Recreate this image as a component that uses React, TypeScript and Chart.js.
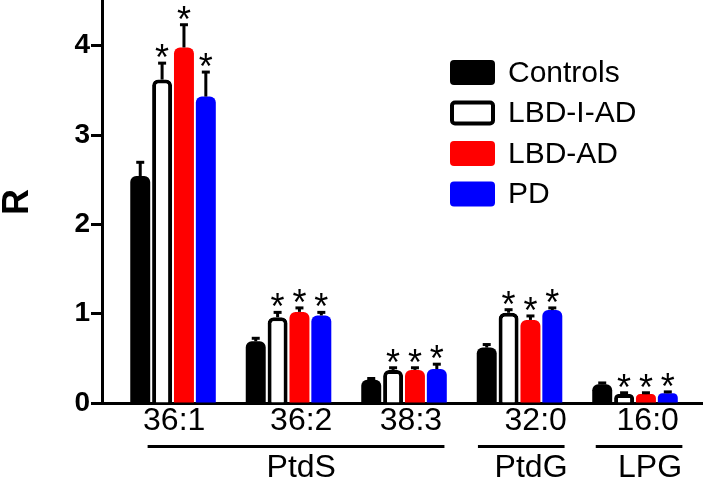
import React, { useEffect, useRef } from 'react';
import { Chart, registerables } from 'chart.js';

Chart.register(...registerables);

// ---------- data ----------
const categories = ['36:1', '36:2', '38:3', '32:0', '16:0'];
const seriesNames = ['Controls', 'LBD-I-AD', 'LBD-AD', 'PD'];

const controls = [2.54, 0.69, 0.26, 0.62, 0.21];
const controlsErr = [0.16, 0.04, 0.02, 0.04, 0.02];
const lbdIAD = [3.62, 0.96, 0.37, 1.01, 0.1];
const lbdIADErr = [0.19, 0.06, 0.03, 0.04, 0.02];
const lbdAD = [3.98, 1.02, 0.37, 0.93, 0.1];
const lbdADErr = [0.26, 0.05, 0.03, 0.05, 0.02];
const pd = [3.43, 0.98, 0.38, 1.04, 0.11];
const pdErr = [0.28, 0.04, 0.06, 0.03, 0.02];

const controlsSig = [false, false, false, false, false];
const lbdIADSig = [true, true, true, true, true];
const lbdADSig = [true, true, true, true, true];
const pdSig = [true, true, true, true, true];

const groupNames = ['PtdS', 'PtdG', 'LPG'];
const yTicks = [0, 1, 2, 3, 4];

const seriesValues = [controls, lbdIAD, lbdAD, pd];
const seriesErrors = [controlsErr, lbdIADErr, lbdADErr, pdErr];
const seriesSig = [controlsSig, lbdIADSig, lbdADSig, pdSig];

// ---------- layout / style ----------
const FONT = "'Liberation Sans', Arial, Helvetica, sans-serif";
const FILLS = ['#000000', '#ffffff', '#ff0000', '#0000ff'];
const BORDERS = [0, 4, 0, 0];
const TICK_SHIFT = [0.01, 0.11, 0.06, 0.14, 0.11];
const GROUP_SPANS = [
  [-0.22, 2.35],
  [2.64, 3.39],
  [3.66, 4.41],
];
const GROUP_LABEL_AT = [1.11, 3.1, 4.13];

function roundRectPath(ctx: CanvasRenderingContext2D, x: number, y: number, w: number, h: number, r: number) {
  ctx.beginPath();
  ctx.moveTo(x + r, y);
  ctx.lineTo(x + w - r, y);
  ctx.arcTo(x + w, y, x + w, y + r, r);
  ctx.lineTo(x + w, y + h - r);
  ctx.arcTo(x + w, y + h, x + w - r, y + h, r);
  ctx.lineTo(x + r, y + h);
  ctx.arcTo(x, y + h, x, y + h - r, r);
  ctx.lineTo(x, y + r);
  ctx.arcTo(x, y, x + r, y, r);
  ctx.closePath();
}

const errorBarPlugin = {
  id: 'errorBars',
  afterDatasetsDraw(chart: any) {
    const ctx = chart.ctx as CanvasRenderingContext2D;
    const yScale = chart.scales.y;
    ctx.save();
    chart.data.datasets.forEach((_ds: any, i: number) => {
      const meta = chart.getDatasetMeta(i);
      meta.data.forEach((bar: any, j: number) => {
        const v = seriesValues[i][j];
        const e = seriesErrors[i][j];
        const yTop = yScale.getPixelForValue(v);
        const yErr = yScale.getPixelForValue(v + e);
        ctx.strokeStyle = '#000';
        ctx.lineWidth = 3;
        ctx.beginPath();
        ctx.moveTo(bar.x, yTop);
        ctx.lineTo(bar.x, yErr);
        ctx.stroke();
        ctx.beginPath();
        ctx.moveTo(bar.x - 4, yErr + 0.5);
        ctx.lineTo(bar.x + 4, yErr + 0.5);
        ctx.stroke();
        if (seriesSig[i][j]) {
          ctx.fillStyle = '#000';
          ctx.font = `36px ${FONT}`;
          ctx.textAlign = 'center';
          ctx.textBaseline = 'alphabetic';
          ctx.fillText('*', bar.x, yErr - 13 + 20.5);
        }
      });
    });
    ctx.restore();
  },
};

const annotationPlugin = {
  id: 'groupsAndLegend',
  afterDraw(chart: any) {
    const ctx = chart.ctx as CanvasRenderingContext2D;
    const xScale = chart.scales.x;
    ctx.save();
    ctx.strokeStyle = '#000';
    ctx.lineWidth = 3;
    GROUP_SPANS.forEach(([a, b], g) => {
      const x1 = xScale.getPixelForValue(a);
      const x2 = xScale.getPixelForValue(b);
      ctx.beginPath();
      ctx.moveTo(x1, 446.5);
      ctx.lineTo(x2, 446.5);
      ctx.stroke();
      ctx.fillStyle = '#000';
      ctx.font = `32px ${FONT}`;
      ctx.textAlign = 'center';
      ctx.textBaseline = 'alphabetic';
      ctx.fillText(groupNames[g], xScale.getPixelForValue(GROUP_LABEL_AT[g]), 477);
    });
    const x0 = 450;
    const y0 = 60;
    const rowH = 40.5;
    const bw = 45;
    const bh = 25;
    chart.data.datasets.forEach((ds: any, i: number) => {
      const y = y0 + i * rowH;
      roundRectPath(ctx, x0, y, bw, bh, 4);
      ctx.fillStyle = ds.backgroundColor;
      ctx.fill();
      if (ds.borderWidth) {
        const h = ds.borderWidth / 2;
        roundRectPath(ctx, x0 + h, y + h, bw - 2 * h, bh - 2 * h, 3);
        ctx.lineWidth = ds.borderWidth;
        ctx.strokeStyle = ds.borderColor;
        ctx.stroke();
      }
      ctx.fillStyle = '#000';
      ctx.font = `30px ${FONT}`;
      ctx.textAlign = 'left';
      ctx.textBaseline = 'middle';
      ctx.fillText(ds.label, x0 + bw + 13, y + bh / 2 + 1);
    });
    ctx.restore();
  },
};

export default function App() {
  const canvasRef = useRef<HTMLCanvasElement | null>(null);

  useEffect(() => {
    document.body.style.margin = '0';
    const canvas = canvasRef.current;
    if (!canvas) return;
    Chart.defaults.font.family = FONT;
    Chart.defaults.color = '#000';

    const chart = new Chart(canvas, {
      type: 'bar',
      data: {
        datasets: seriesNames.map((name, i) => ({
          label: name,
          data: seriesValues[i].map((v, j) => ({ x: j, y: v })),
          backgroundColor: FILLS[i],
          borderColor: '#000000',
          borderWidth: BORDERS[i],
          borderRadius: { topLeft: 6, topRight: 6, bottomLeft: 0, bottomRight: 0 },
          borderSkipped: 'bottom',
          categoryPercentage: 0.797,
          barPercentage: 0.913,
        })),
      },
      options: {
        responsive: false,
        animation: false,
        devicePixelRatio: 1,
        layout: { padding: { top: 1, right: 4, left: 0, bottom: 0 } },
        plugins: {
          legend: { display: false },
          tooltip: { enabled: false },
        },
        scales: {
          x: {
            type: 'linear',
            min: -0.615,
            max: 4.58,
            offset: false,
            afterFit: (s: any) => {
              s.height = 75;
              s.paddingLeft = 0;
              s.paddingRight = 0;
            },
            afterBuildTicks: (s: any) => {
              s.ticks = categories.map((_c, i) => ({ value: i + TICK_SHIFT[i] }));
            },
            ticks: {
              callback: (_v: any, i: number) => categories[i],
              font: { size: 32, lineHeight: 1 },
              color: '#000',
              padding: 2,
              autoSkip: false,
              maxRotation: 0,
            },
            grid: { display: false, drawTicks: false },
            border: { display: true, width: 3, color: '#000' },
          },
          y: {
            min: 0,
            max: 4.5,
            afterFit: (s: any) => {
              s.width = 102;
              s.paddingTop = 0;
              s.paddingBottom = 0;
            },
            afterBuildTicks: (s: any) => {
              s.ticks = yTicks.map((v) => ({ value: v }));
            },
            ticks: {
              font: { size: 28, weight: 'bold' },
              color: '#000',
              padding: 1,
            },
            grid: {
              display: true,
              drawOnChartArea: false,
              drawTicks: true,
              tickLength: 11,
              tickWidth: 3,
              tickColor: '#000',
            },
            border: { display: true, width: 3, color: '#000' },
            title: {
              display: true,
              text: 'R',
              font: { size: 36, weight: 'bold', lineHeight: 1 },
              color: '#000',
              padding: 0,
            },
          },
        },
      },
      plugins: [errorBarPlugin, annotationPlugin],
    } as any);

    return () => {
      chart.destroy();
    };
  }, []);

  return (
    <div style={{ width: 706, height: 478, overflow: 'hidden' }}>
      <canvas ref={canvasRef} width={706} height={478} style={{ display: 'block' }} />
    </div>
  );
}
